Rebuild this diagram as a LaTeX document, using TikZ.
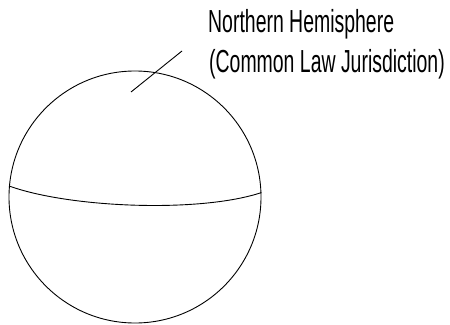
\documentclass[tikz,border=0pt]{standalone}
\usepackage{fontspec}
\usepackage{tikz}
\usetikzlibrary{positioning, calc}
\newfontfamily\paintfont[FakeStretch=0.61]{Liberation Sans}
\tikzset{
    globeline/.style={draw=black, line width=0.9pt},
    globe/.style    ={globeline, circle, minimum size=252bp, inner sep=0pt},
    lbl/.style      ={font=\paintfont\fontsize{32}{40}\selectfont, inner sep=0pt, anchor=base west}
}

\begin{document}
\begin{tikzpicture}[x=1bp, y=1bp]
  \useasboundingbox (0,0) rectangle (450,324);

  \node[globe] (earth) at (135,127) {};
  \draw[globeline] (earth.175) .. controls (70,116) and (200,111) .. (earth.2);

  % label and leader
  \node[lbl] (north) at (208,292) {Northern Hemisphere};
  \node[lbl] (juris) at (209,252) {(Common Law Jurisdiction)};
  \coordinate (lead-a) at (131,232);
  \coordinate (lead-b) at (182,273);
  \draw[globeline] (lead-a) -- (lead-b);
\end{tikzpicture}
\end{document}
